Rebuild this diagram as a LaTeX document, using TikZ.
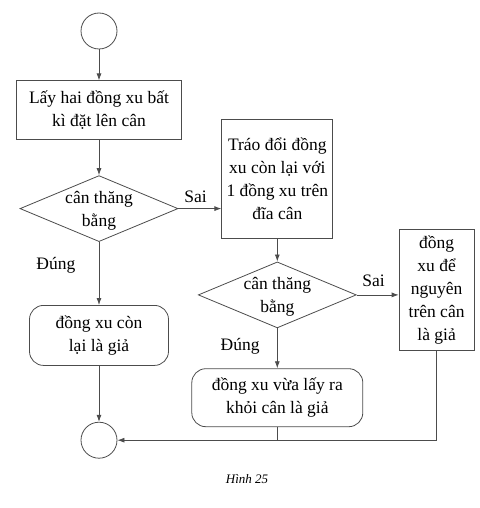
\documentclass[tikz,border=0pt]{standalone}
\usepackage{fontspec}
\setmainfont{Liberation Serif}
\usepackage{tikz}
\usetikzlibrary{arrows.meta,positioning,shapes.geometric}

\begin{document}
\begin{tikzpicture}[
 x=1pt,y=-1pt,
 font=\fontsize{17.5}{23}\selectfont,
 line/.style={draw=black!70,line width=0.8pt},
 terminal/.style={circle,line,minimum size=36pt,inner sep=0pt},
 box/.style={rectangle,line,align=center,inner sep=2pt},
 result/.style={box,rounded corners=14pt},
 decision/.style={diamond,line,inner sep=0pt,minimum width=158pt,minimum height=66pt},
 arr/.style={line,-{Latex[length=7pt,width=5pt]}}
]
\useasboundingbox (0,0) rectangle (479,508);
% main column
\node[terminal] (start) at (99,31) {};
\node[box,below=31pt of start,minimum width=165pt,minimum height=59pt] (pick) {Lấy hai đồng xu bất\\kì đặt lên cân};
\node[decision,below=35pt of pick,label={[align=center,yshift=-2pt]center:cân thăng\\bằng}] (test1) {};
\node[result,below=63pt of test1,minimum width=139pt,minimum height=60pt] (fakeA) {đồng xu còn\\lại là giả};
\node[terminal,below=56pt of fakeA] (stop) {};
% right branch
\node[box,right=43pt of test1,yshift=30pt,minimum width=111pt,minimum height=119pt] (swap) {Tráo đổi đồng\\xu còn lại với\\1 đồng xu trên\\đĩa cân};
\node[decision,below=23pt of swap,label={[align=center,yshift=-2pt]center:cân thăng\\bằng}] (test2) {};
\node[box,right=42pt of test2,yshift=5pt,minimum width=75pt,minimum height=121pt] (fakeC) {đồng\\xu để\\nguyên\\trên cân\\là giả};
\node[result,below=40pt of test2,minimum width=171pt,minimum height=58pt] (fakeB) {đồng xu vừa lấy ra\\khỏi cân là giả};
\node[font=\fontsize{13}{15}\selectfont\itshape] (caption) at (247,479) {Hình 25};
\draw[arr] (start)--(pick);
\draw[arr] (pick)--(test1);
\draw[arr] (test1.east)--node[above=2pt,pos=0.4]{Sai}(test1.east -| swap.west);
\draw[arr] (test1)--node[pos=0.37,left=20pt]{Đúng}(fakeA);
\draw[arr] (swap)--(test2);
\draw[arr] (test2.east)--node[above=4pt,pos=0.4]{Sai}(test2.east -| fakeC.west);
\draw[arr] (test2)--node[pos=0.45,left=14pt]{Đúng}(fakeB);
\draw[arr] (fakeA)--(stop);
\draw[line] (fakeB.south)--(fakeB.south |- stop.east);
\draw[arr] (fakeC.south) |- (stop.east);
\end{tikzpicture}
\end{document}
